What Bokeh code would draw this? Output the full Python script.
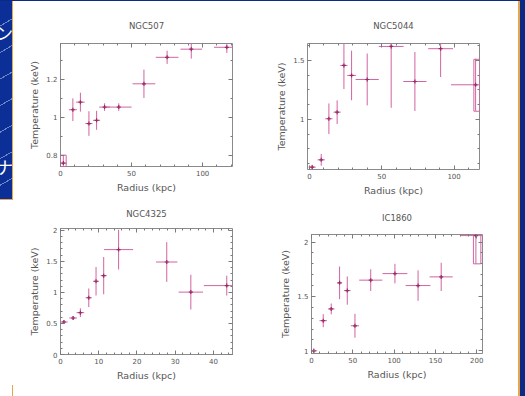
from bokeh.plotting import figure
from bokeh.models import FixedTicker, LinearAxis, Range1d, CustomJSTickFormatter, Div
from bokeh.layouts import column, row
from bokeh.embed import file_html
from bokeh.resources import INLINE

# ---------------- data ----------------
titles = ["NGC507", "NGC5044", "NGC4325", "IC1860"]

n507_r = [2.0, 8.7, 14.0, 20.0, 25.4, 31.0, 41.0, 58.7, 75.0, 92.0, 117.0]
n507_rerr = [2.5, 2.8, 3.0, 2.5, 2.5, 3.8, 9.0, 8.0, 8.0, 7.6, 9.0]
n507_t = [0.758, 1.04, 1.08, 0.967, 0.984, 1.054, 1.054, 1.177, 1.317, 1.36, 1.37]
n507_terr = [0.04, 0.06, 0.05, 0.065, 0.05, 0.02, 0.02, 0.075, 0.035, 0.05, 0.03]
n507_box = ([0.0], [4.0], [0.74], [0.80])          # r0, r1, t0, t1

n5044_r = [1.85, 8.1, 13.4, 19.1, 23.8, 29.1, 39.9, 56.5, 72.9, 90.7, 114.9]
n5044_rerr = [2.5, 2.5, 2.5, 2.5, 2.5, 3.0, 8.0, 8.6, 8.0, 8.6, 17.0]
n5044_t = [0.596, 0.658, 1.006, 1.062, 1.458, 1.373, 1.339, 1.619, 1.322, 1.60, 1.294]
n5044_terr = [0.02, 0.05, 0.13, 0.10, 0.20, 0.21, 0.22, 0.52, 0.25, 0.24, 0.22]
n5044_box = ([113.7], [117.6], [1.07], [1.51])

n4325_r = [0.9, 3.3, 5.2, 7.4, 9.3, 11.3, 15.2, 27.8, 34.1, 43.5]
n4325_rerr = [1.0, 1.0, 1.0, 0.8, 0.8, 0.8, 3.8, 2.8, 3.2, 6.0]
n4325_t = [0.524, 0.588, 0.674, 0.914, 1.18, 1.27, 1.69, 1.49, 1.005, 1.11]
n4325_terr = [0.03, 0.03, 0.07, 0.15, 0.23, 0.30, 0.32, 0.32, 0.28, 0.16]
n4325_box = ([], [], [], [])

ic1860_r = [2.8, 14.2, 23.9, 34.0, 43.3, 52.6, 71.7, 101.0, 129.0, 157.0, 199.0]
ic1860_rerr = [4.0, 4.5, 4.0, 3.0, 4.0, 5.0, 14.0, 15.0, 15.0, 14.0, 18.0]
ic1860_t = [1.0, 1.277, 1.385, 1.625, 1.554, 1.23, 1.65, 1.71, 1.60, 1.68, 2.06]
ic1860_terr = [0.02, 0.06, 0.05, 0.15, 0.13, 0.11, 0.10, 0.09, 0.14, 0.13, 0.26]
ic1860_box = ([196.0], [205.0], [1.80], [2.07])

x_label = "Radius (kpc)"
y_label = "Temperature (keV)"
slide_chars = ["ン", "ナ"]

# tick values
xt_a = [0, 50, 100]
xt_b = [0, 10, 20, 30, 40]
xt_c = [0, 50, 100, 150, 200]
yt_a = [0.8, 1.0, 1.2]
yt_b = [1.0, 1.5]
yt_c = [0.0, 0.5, 1.0, 1.5, 2.0]
yt_d = [1.0, 1.5, 2.0]

ERR = "#d064a2"
MARK = "#9a2a64"
AX = "#555555"
TICK = "#7a7a7a"
fmt = CustomJSTickFormatter(code="return String(Math.round(tick*1000)/1000);")
blank = CustomJSTickFormatter(code="return '';")


def minor(lo, hi, step):
    out = []
    v = lo
    while v <= hi + 1e-9:
        out.append(round(v, 4))
        v += step
    return out


def panel(title, r, rerr, t, terr, box, xr, yr, xt, xminor, yt, yminor, w, h, borders, tstand):
    bl, br, bt, bb = borders
    p = figure(width=w, height=h, output_backend="svg", toolbar_location=None,
               x_range=Range1d(*xr), y_range=Range1d(*yr), frame_align=False,
               min_border_left=bl, min_border_right=br, min_border_top=bt, min_border_bottom=bb)
    p.border_fill_alpha = 0
    p.background_fill_color = "white"
    p.outline_line_color = "#8a8a8a"
    p.outline_line_width = 1
    p.grid.visible = False

    xtick = FixedTicker(ticks=xt, minor_ticks=xminor)
    ytick = FixedTicker(ticks=yt, minor_ticks=yminor)
    p.xaxis.ticker = xtick
    p.yaxis.ticker = ytick
    p.xaxis.axis_label = x_label
    p.yaxis.axis_label = y_label
    for ax in (p.xaxis[0], p.yaxis[0]):
        ax.formatter = fmt
        ax.axis_line_color = None
        ax.major_tick_in = 4
        ax.major_tick_out = 0
        ax.minor_tick_in = 2
        ax.minor_tick_out = 0
        ax.major_tick_line_color = TICK
        ax.minor_tick_line_color = TICK
        ax.major_label_text_font = "DejaVu Sans"
        ax.major_label_text_font_size = "7px"
        ax.major_label_text_color = AX
        ax.axis_label_text_font = "DejaVu Sans"
        ax.axis_label_text_font_size = "9.5px"
        ax.axis_label_text_font_style = "normal"
        ax.axis_label_text_color = AX
        ax.major_label_standoff = 3
    p.xaxis.axis_label_standoff = 3
    p.yaxis.axis_label_standoff = 3
    for loc, tk in (("above", xtick), ("right", ytick)):
        ax = LinearAxis(ticker=tk, formatter=blank, axis_line_color=None, major_tick_in=4,
                        major_tick_out=0, minor_tick_in=2, minor_tick_out=0,
                        major_label_standoff=0,
                        major_tick_line_color=TICK, minor_tick_line_color=TICK)
        if loc == "above":
            ax.axis_label = title
            ax.axis_label_standoff = tstand
            ax.axis_label_text_font = "DejaVu Sans"
            ax.axis_label_text_font_size = "8.5px"
            ax.axis_label_text_font_style = "normal"
            ax.axis_label_text_color = AX
        p.add_layout(ax, loc)

    x0 = [a - b for a, b in zip(r, rerr)]
    x1 = [a + b for a, b in zip(r, rerr)]
    y0 = [a - b for a, b in zip(t, terr)]
    y1 = [a + b for a, b in zip(t, terr)]
    p.segment(x0=x0, y0=t, x1=x1, y1=t, line_color=ERR, line_width=1)
    p.segment(x0=r, y0=y0, x1=r, y1=y1, line_color=ERR, line_width=1)
    if box[0]:
        p.quad(left=box[0], right=box[1], bottom=box[2], top=box[3],
               fill_color=None, line_color=ERR, line_width=1)
    p.scatter(x=r, y=t, marker="cross", size=4, line_color=MARK, line_width=1.2)
    return p


tl = panel(titles[0], n507_r, n507_rerr, n507_t, n507_terr, n507_box, (0, 121), (0.74, 1.39),
           xt_a, minor(0, 120, 10), yt_a, minor(0.7, 1.4, 0.1), 260, 198, (60, 28, 43, 32), 13)
tr = panel(titles[1], n5044_r, n5044_rerr, n5044_t, n5044_terr, n5044_box, (-1.4, 117.6),
           (0.576, 1.644), xt_a, minor(0, 110, 10), yt_b, minor(0.625, 1.625, 0.125),
           265, 198, (47, 46, 43, 29), 13)
bl = panel(titles[2], n4325_r, n4325_rerr, n4325_t, n4325_terr, n4325_box, (0, 45), (0, 2.03),
           xt_b, minor(0, 44, 2), yt_c, minor(0, 2, 0.1), 260, 198, (60, 28, 30, 42), 10)
br = panel(titles[3], ic1860_r, ic1860_rerr, ic1860_t, ic1860_terr, ic1860_box, (0, 207),
           (0.975, 2.07), xt_c, minor(0, 200, 10), yt_d, minor(1.0, 2.0, 0.1),
           265, 198, (51, 43, 36, 43), 12)

bg = ("linear-gradient(#0b2a86,#0b2a86) 0 0 / 525px 1px no-repeat,"
      "linear-gradient(#e8a448,#e8a448) 12px 0 / 1px 200px no-repeat,"
      "linear-gradient(#e8a448,#e8a448) 0 199px / 13px 1px no-repeat,"
      "linear-gradient(#e8a448,#e8a448) 12px 385px / 1px 11px no-repeat,"
      "repeating-linear-gradient(150deg, #0b2f96 0 22px, #6d86c8 22px 23px) 0 0 / 12px 200px no-repeat,"
      "linear-gradient(#e8a448,#e8a448) 518px 0 / 2px 396px no-repeat,"
      "linear-gradient(#0b2a86,#0b2a86) 520px 0 / 5px 396px no-repeat,"
      "#ffffff")

chars = [Div(text=slide_chars[0], styles={"position": "absolute", "left": "-9px", "top": "16px",
                                           "color": "white", "font-size": "17px",
                                           "font-family": "Noto Sans CJK JP", "z-index": "5"}),
         Div(text=slide_chars[1], styles={"position": "absolute", "left": "-9px", "top": "150px",
                                           "color": "white", "font-size": "17px",
                                           "font-family": "Noto Sans CJK JP", "z-index": "5"})]

root = column(row(tl, tr), row(bl, br), *chars,
              styles={"position": "absolute", "left": "0px", "top": "0px", "background": bg})

open("out.html", "w").write(file_html(root, INLINE))
